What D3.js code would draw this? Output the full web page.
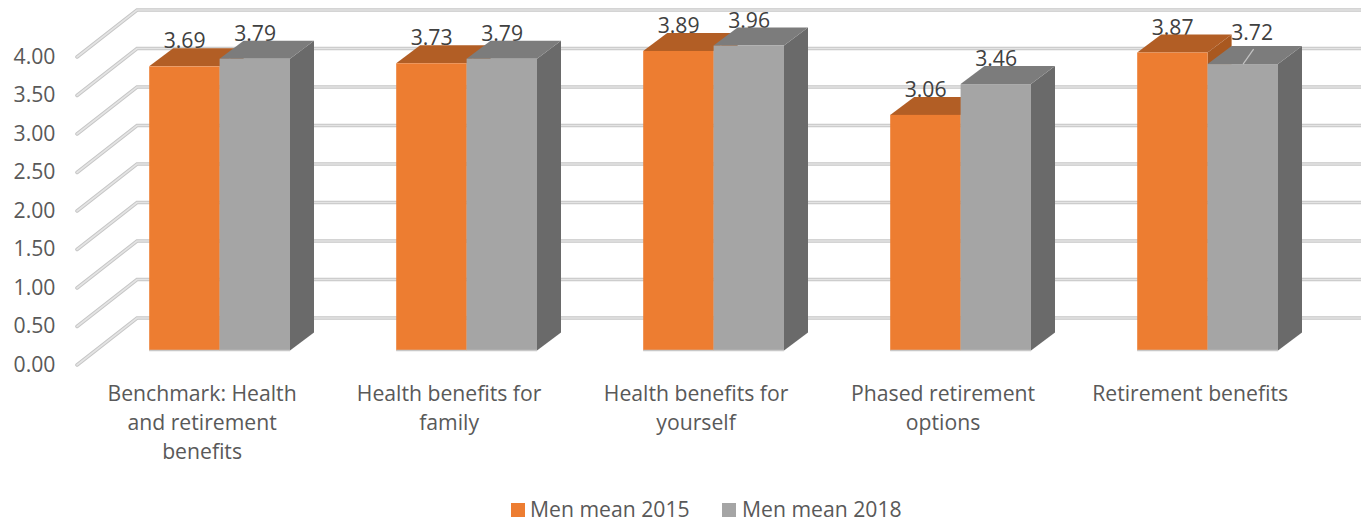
<!DOCTYPE html>
<html><head><meta charset="utf-8">
<script src="https://cdnjs.cloudflare.com/ajax/libs/d3/7.8.5/d3.min.js"></script>
<style>html,body{margin:0;padding:0;background:#fff}svg{display:block}text{font-family:"Open Sans",sans-serif}</style>
</head><body><svg id="c" width="1361" height="524"></svg>
<script>
const categories = ["Benchmark: Health and retirement benefits","Health benefits for family","Health benefits for yourself","Phased retirement options","Retirement benefits"];
const categoryLines = [["Benchmark: Health","and retirement","benefits"],["Health benefits for","family"],["Health benefits for","yourself"],["Phased retirement","options"],["Retirement benefits"]];
const men2015 = [3.69,3.73,3.89,3.06,3.87];
const men2018 = [3.79,3.79,3.96,3.46,3.72];
const seriesNames = ["Men mean 2015","Men mean 2018"];
const yTicks = [0,0.5,1,1.5,2,2.5,3,3.5,4];

const svg = d3.select("#c");
const y = d3.scaleLinear().domain([0,4]).range([350.5,42.5]);
const x = d3.scaleBand().domain(categories).range([96.1,1331.1]);
const barW = 70.4, dX = 24, dY = 18;
const wallDX = 60, wallDY = 32.5, floorX = 77, floorDrop = 14.5;
const fs = 21.2;
const cols = [{front:"#ED7D31",top:"#B25E25",side:"#A9581F"},{front:"#A5A5A5",top:"#7C7C7C",side:"#6A6A6A"}];

// gridlines: diagonal side wall plus back wall
const grid = svg.append("g");
yTicks.forEach(t=>{
  const wy = y(t)-wallDY;
  const pts = [[floorX,y(t)+floorDrop],[floorX+wallDX,wy],[1361,wy]];
  grid.append("path").attr("d",d3.line()(pts)).attr("fill","none").attr("stroke","#c6c6c6").attr("stroke-width",3.6).attr("stroke-linecap","round");
  grid.append("path").attr("d",d3.line()(pts)).attr("fill","none").attr("stroke","#e4e4e4").attr("stroke-width",1.6).attr("stroke-linecap","round");
});

// y axis labels
const axis = d3.axisLeft(d3.scaleLinear().domain([0,4]).range([y(0)+14.2,y(4)+14.2])).tickValues(yTicks).tickFormat(d3.format(".2f")).tickSize(0).tickPadding(0);
const ag = svg.append("g").attr("transform","translate(55.5,0)").call(axis);
ag.select(".domain").remove();
ag.selectAll("text").attr("font-size",fs).attr("fill","#595959").style("font-family",'"Open Sans",sans-serif');

// data labels (behind bars)
const labelG = svg.append("g");
const cx = c => x(c)+x.bandwidth()/2;
const fmt = d3.format(".2f");
[men2015,men2018].forEach((vals,s)=>{
  categories.forEach((c,i)=>{
    const moved = s===1 && i===4;
    const lx = cx(c) + (s===0?-35:35.5) + (moved?9:0);
    const ly = y(vals[i]) - (moved?33:26.5);
    labelG.append("text").attr("x",lx).attr("y",ly).attr("text-anchor","middle").attr("dominant-baseline","central").attr("font-size",fs).attr("fill","#404040").text(fmt(vals[i]));
  });
});

// bars
const bars = svg.append("g");
categories.forEach((c,i)=>{
  [men2015,men2018].forEach((vals,s)=>{
    const l = cx(c) + (s===0?-barW:0), r = l+barW, t = y(vals[i]), b = y(0);
    const k = cols[s];
    bars.append("path").attr("d",d3.line()([[r,b],[r+dX,b-dY],[r+dX,t-dY],[r,t]])+"Z").attr("fill",k.side);
    bars.append("path").attr("d",d3.line()([[l,t],[l+dX,t-dY],[r+dX,t-dY],[r,t]])+"Z").attr("fill",k.top);
    bars.append("rect").attr("x",l).attr("y",t).attr("width",barW).attr("height",b-t).attr("fill",k.front);
    bars.append("path").attr("d",d3.line()([[l,b],[r,b]])).attr("stroke","#c8c8c8").attr("stroke-width",1.5);
  });
});
// leader line of the moved label
bars.append("path").attr("d",d3.line()([[cx(categories[4])+35.5,y(men2018[4])],[cx(categories[4])+46,y(men2018[4])-15]])).attr("stroke","#c4c4c4").attr("stroke-width",1.2).attr("fill","none");

// category labels
categories.forEach((c,i)=>{
  const t = svg.append("text").attr("text-anchor","middle").attr("font-size",fs).attr("fill","#595959");
  categoryLines[i].forEach((ln,j)=>{
    t.append("tspan").attr("x",cx(c)-17.5).attr("y",400.5+j*29.3).text(ln);
  });
});

// legend
const legX = [511,722];
seriesNames.forEach((n,s)=>{
  svg.append("rect").attr("x",legX[s]).attr("y",503).attr("width",14).attr("height",14).attr("fill",cols[s].front);
  svg.append("text").attr("x",legX[s]+(s===0?19:20)).attr("y",516.5).attr("font-size",fs).attr("fill","#595959").text(n);
});
</script></body></html>
